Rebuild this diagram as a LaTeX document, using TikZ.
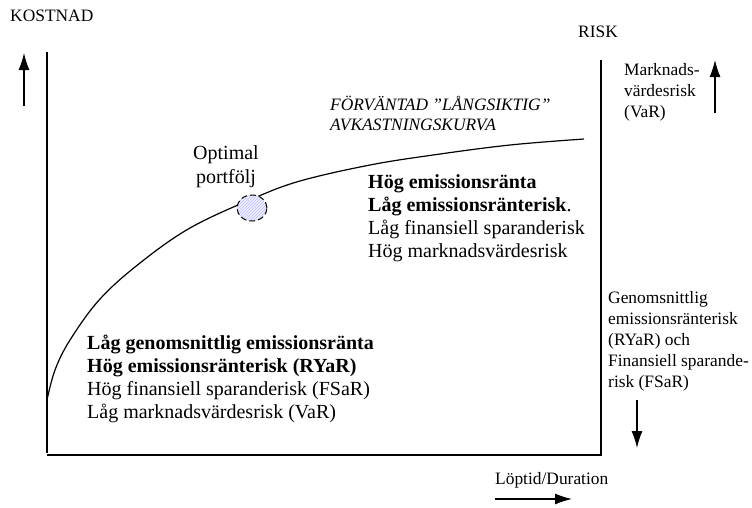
\documentclass[tikz,border=0pt]{standalone}
\usepackage{fontspec}
\setmainfont{Liberation Serif}
\usetikzlibrary{arrows.meta,patterns,shapes.geometric}

\tikzset{
  pil/.style={-{Latex[length=17pt,width=11pt]},line width=1.2pt},
  axel/.style={line width=1.3pt},
  liten/.style={inner sep=0pt,font=\fontsize{17.4}{21}\selectfont},
  stor/.style={inner sep=0pt,font=\fontsize{20}{23}\selectfont},
}

\begin{document}
\begin{tikzpicture}[x=1pt,y=-1pt]
\useasboundingbox (0,0) rectangle (752,507);
% axlar
\coordinate (vtopp) at (47,52);
\coordinate (vbotten) at (47,453);
\coordinate (hstart) at (47,455);
\coordinate (hslut) at (602,455);
\coordinate (htopp) at (601,60);
\coordinate (hbotten) at (601,455);
\draw[axel] (vtopp) -- (vbotten);
\draw[axel] (hstart) -- (hslut);
\draw[axel] (htopp) -- (hbotten);
% kurvan
\draw[line width=1.2pt] plot[smooth,tension=0.6] coordinates {(47,400) (55,370) (70,340) (100,299) (140,263) (190,228) (252,199) (300,181) (370,165) (433,155) (510,145) (584,139)};
\node[ellipse,draw,dashed,dash pattern=on 6pt off 3pt,line width=1pt,minimum width=30pt,minimum height=26pt,inner sep=0pt,
      preaction={fill=blue!6},pattern=north east lines,pattern color=blue!25] (opt) at (252,208) {};
% pilar
\coordinate (kpil1) at (24,106);
\coordinate (kpil2) at (24,53);
\draw[pil] (kpil1) -- (kpil2);
\coordinate (rpil1) at (715,113);
\coordinate (rpil2) at (715,60);
\draw[pil] (rpil1) -- (rpil2);
\coordinate (npil1) at (637,400);
\coordinate (npil2) at (637,448);
\draw[pil] (npil1) -- (npil2);
\coordinate (tpil1) at (495,499);
\coordinate (tpil2) at (572,499);
\draw[pil] (tpil1) -- (tpil2);
% texter
\node[liten,anchor=west] (kostnad) at (10,16) {KOSTNAD};
\node[liten,anchor=west] (risk) at (578,32) {RISK};
\node[liten,anchor=north west,align=left] (var) at (624,63.6) {Marknads-\\värdesrisk\\(VaR)};
\node[liten,anchor=north west,align=left] (ryar) at (608,291.6) {Genomsnittlig\\emissionsränterisk\\(RYaR) och\\Finansiell sparande-\\risk (FSaR)};
\node[liten,anchor=west] (loptid) at (495,480) {Löptid/Duration};
\node[liten,anchor=north west,align=left,font=\fontsize{17.4}{20}\selectfont\itshape] (kurva) at (330,95.6) {FÖRVÄNTAD ”LÅNGSIKTIG”\\AVKASTNINGSKURVA};
\node[stor,anchor=north,align=center,font=\fontsize{20}{24}\selectfont] (optimal) at (226,145.6) {Optimal\\portfölj};
\node[stor,anchor=north west,align=left] (hog) at (368,174.6) {\textbf{Hög emissionsränta}\\\textbf{Låg emissionsränterisk}.\\Låg finansiell sparanderisk\\Hög marknadsvärdesrisk};
\node[stor,anchor=north west,align=left] (lag) at (87,334.6) {\textbf{Låg genomsnittlig emissionsränta}\\\textbf{Hög emissionsränterisk (RYaR)}\\Hög finansiell sparanderisk (FSaR)\\Låg marknadsvärdesrisk (VaR)};
\end{tikzpicture}
\end{document}
